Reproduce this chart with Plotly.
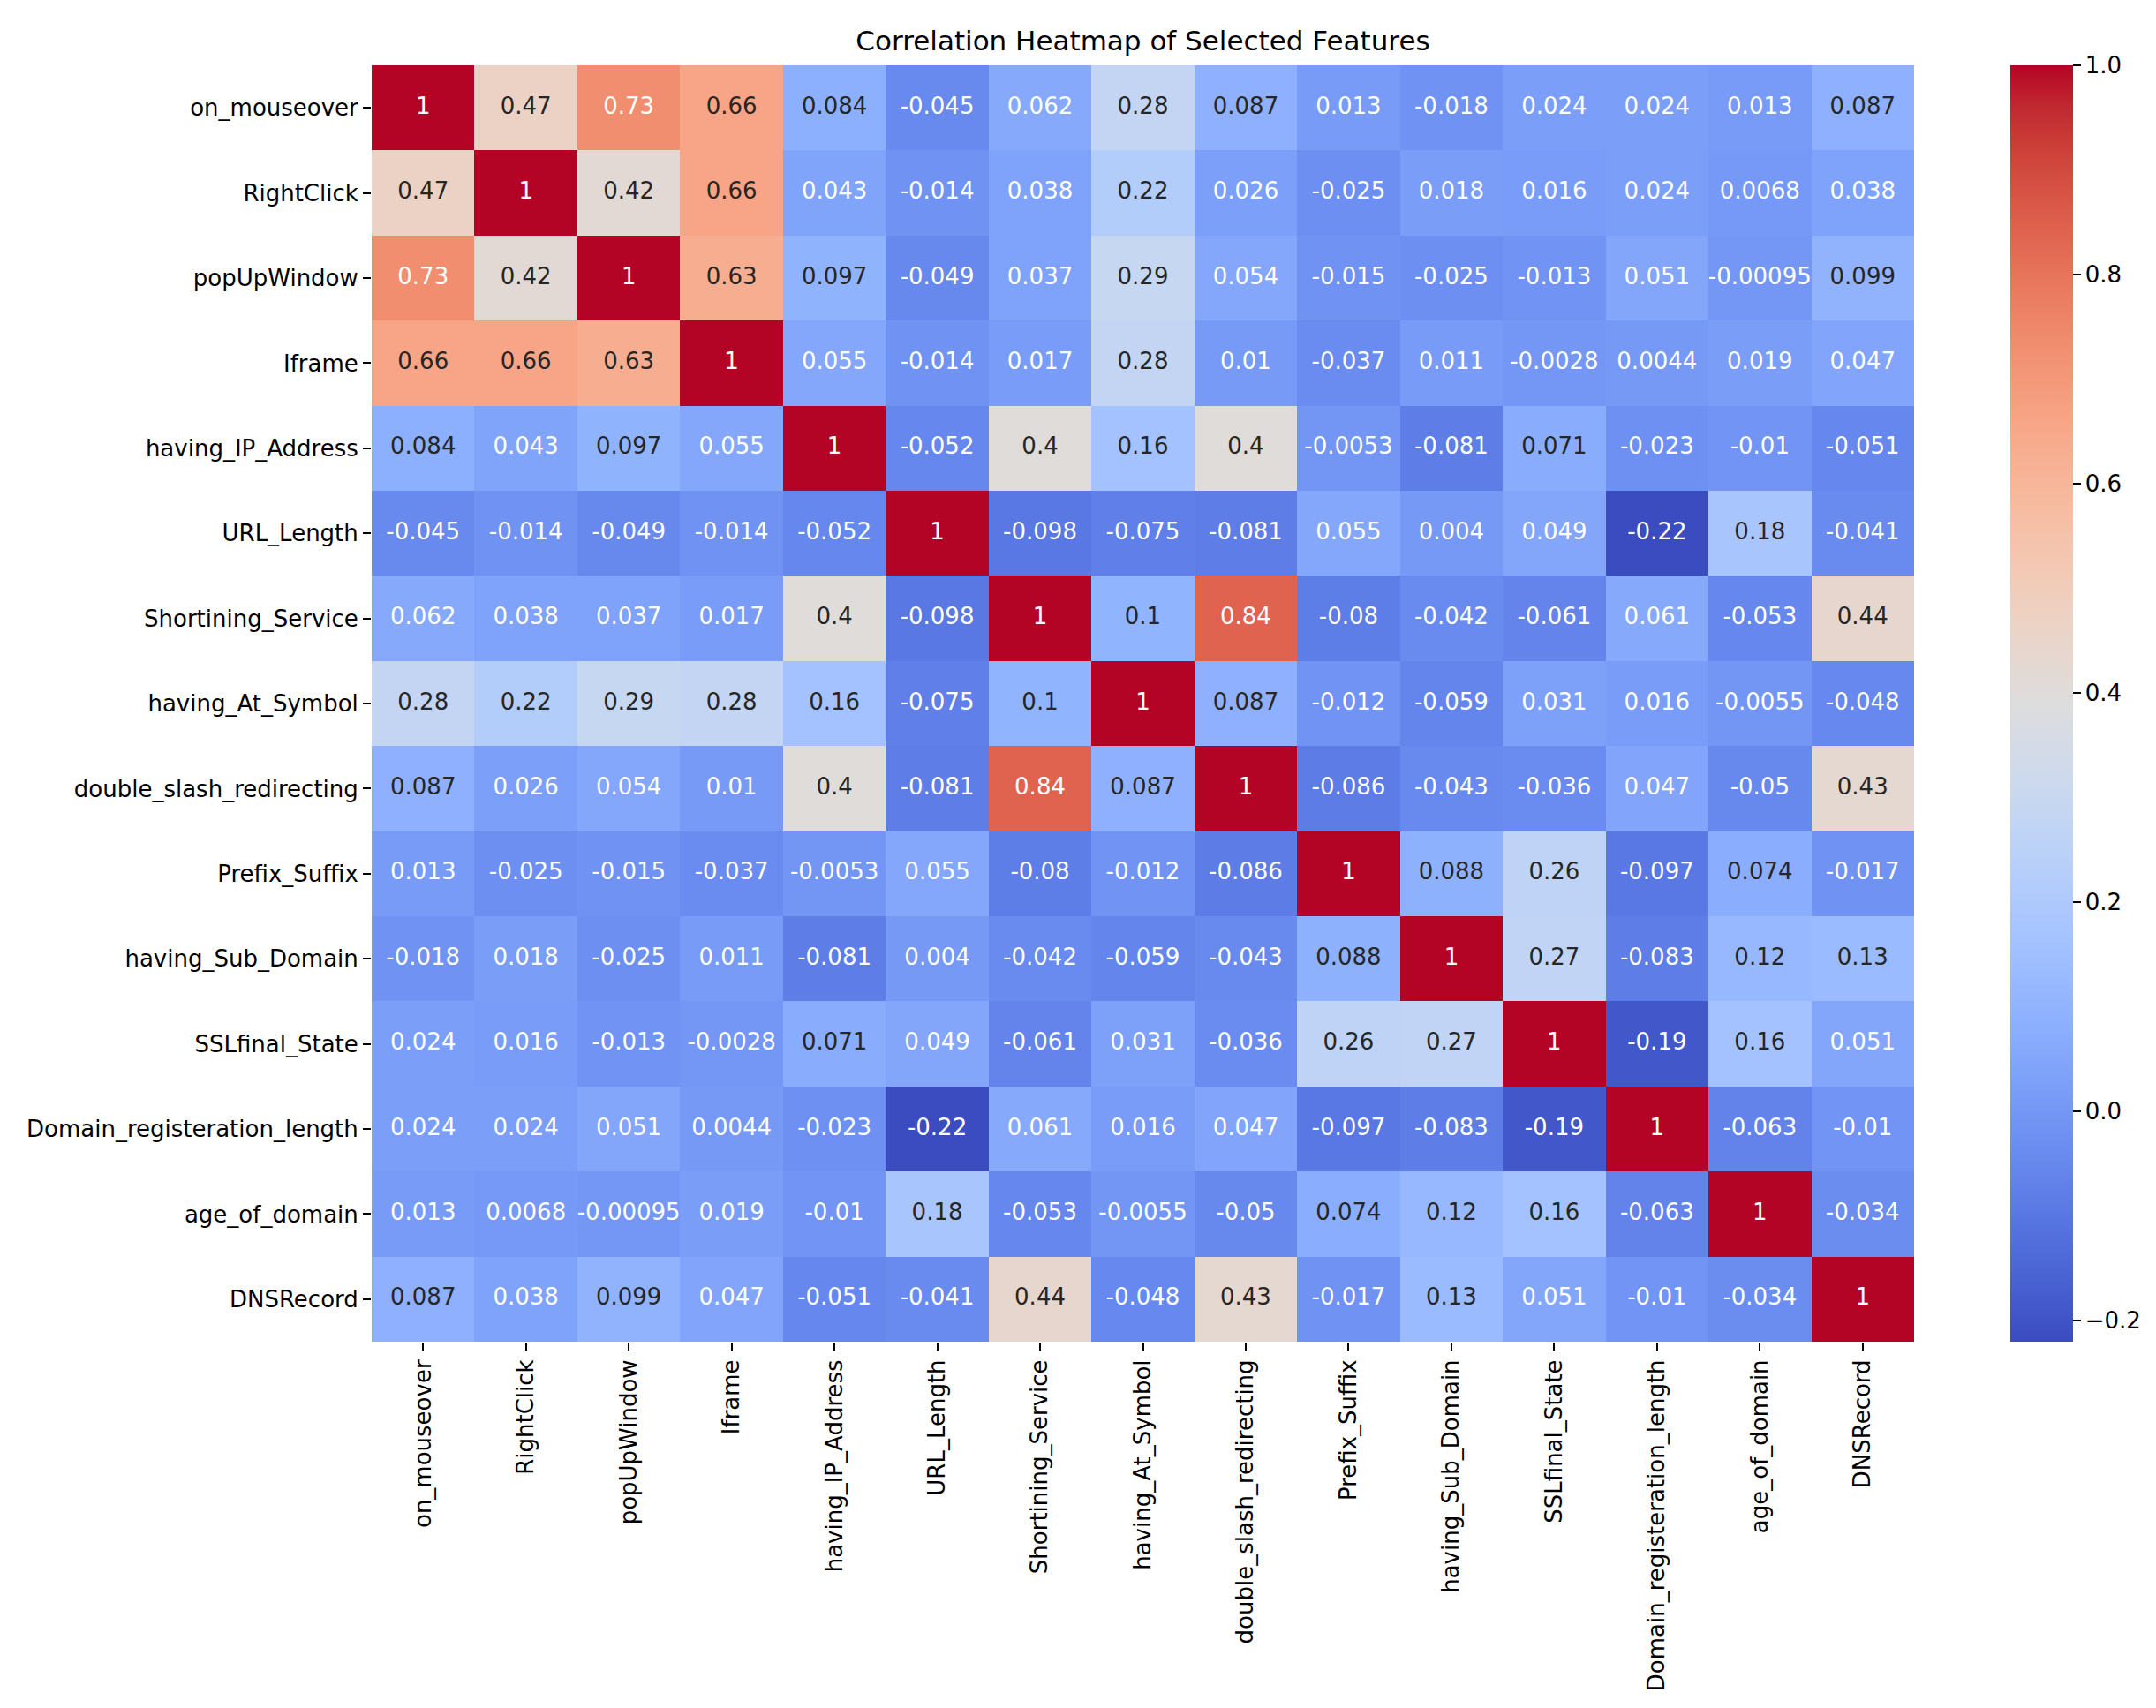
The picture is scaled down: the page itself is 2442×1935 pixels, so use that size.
import numpy as np
import plotly.graph_objects as go

features = [
    "on_mouseover", "RightClick", "popUpWindow", "Iframe", "having_IP_Address",
    "URL_Length", "Shortining_Service", "having_At_Symbol", "double_slash_redirecting",
    "Prefix_Suffix", "having_Sub_Domain", "SSLfinal_State",
    "Domain_registeration_length", "age_of_domain", "DNSRecord",
]

corr = [
    [1, 0.47, 0.73, 0.66, 0.084, -0.045, 0.062, 0.28, 0.087, 0.013, -0.018, 0.024, 0.024, 0.013, 0.087],
    [0.47, 1, 0.42, 0.66, 0.043, -0.014, 0.038, 0.22, 0.026, -0.025, 0.018, 0.016, 0.024, 0.0068, 0.038],
    [0.73, 0.42, 1, 0.63, 0.097, -0.049, 0.037, 0.29, 0.054, -0.015, -0.025, -0.013, 0.051, -0.00095, 0.099],
    [0.66, 0.66, 0.63, 1, 0.055, -0.014, 0.017, 0.28, 0.01, -0.037, 0.011, -0.0028, 0.0044, 0.019, 0.047],
    [0.084, 0.043, 0.097, 0.055, 1, -0.052, 0.4, 0.16, 0.4, -0.0053, -0.081, 0.071, -0.023, -0.01, -0.051],
    [-0.045, -0.014, -0.049, -0.014, -0.052, 1, -0.098, -0.075, -0.081, 0.055, 0.004, 0.049, -0.22, 0.18, -0.041],
    [0.062, 0.038, 0.037, 0.017, 0.4, -0.098, 1, 0.1, 0.84, -0.08, -0.042, -0.061, 0.061, -0.053, 0.44],
    [0.28, 0.22, 0.29, 0.28, 0.16, -0.075, 0.1, 1, 0.087, -0.012, -0.059, 0.031, 0.016, -0.0055, -0.048],
    [0.087, 0.026, 0.054, 0.01, 0.4, -0.081, 0.84, 0.087, 1, -0.086, -0.043, -0.036, 0.047, -0.05, 0.43],
    [0.013, -0.025, -0.015, -0.037, -0.0053, 0.055, -0.08, -0.012, -0.086, 1, 0.088, 0.26, -0.097, 0.074, -0.017],
    [-0.018, 0.018, -0.025, 0.011, -0.081, 0.004, -0.042, -0.059, -0.043, 0.088, 1, 0.27, -0.083, 0.12, 0.13],
    [0.024, 0.016, -0.013, -0.0028, 0.071, 0.049, -0.061, 0.031, -0.036, 0.26, 0.27, 1, -0.19, 0.16, 0.051],
    [0.024, 0.024, 0.051, 0.0044, -0.023, -0.22, 0.061, 0.016, 0.047, -0.097, -0.083, -0.19, 1, -0.063, -0.01],
    [0.013, 0.0068, -0.00095, 0.019, -0.01, 0.18, -0.053, -0.0055, -0.05, 0.074, 0.12, 0.16, -0.063, 1, -0.034],
    [0.087, 0.038, 0.099, 0.047, -0.051, -0.041, 0.44, -0.048, 0.43, -0.017, 0.13, 0.051, -0.01, -0.034, 1],
]

cbar_ticks = [-0.2, 0.0, 0.2, 0.4, 0.6, 0.8, 1.0]

# matplotlib "coolwarm" (Moreland cool-to-warm), 33 samples
coolwarm = [
    (0.2298057, 0.298717966, 0.753683153), (0.26623388, 0.353094838, 0.801466763),
    (0.30386891, 0.406535296, 0.84495867), (0.342804478, 0.458757618, 0.883725899),
    (0.38301334, 0.50941904, 0.917387822), (0.424369608, 0.558148092, 0.945619588),
    (0.46666708, 0.604562568, 0.968154911), (0.509635204, 0.648280772, 0.98478814),
    (0.552953156, 0.688929332, 0.995375608), (0.596262162, 0.726149107, 0.999836203),
    (0.639176211, 0.759599947, 0.998151185), (0.681291281, 0.788964712, 0.990363227),
    (0.722193294, 0.813952739, 0.976574709), (0.761464949, 0.834302879, 0.956945269),
    (0.798691636, 0.849786142, 0.931688648), (0.833466556, 0.860207984, 0.901068838),
    (0.865395197, 0.86541021, 0.865395561), (0.897787179, 0.848937047, 0.820880546),
    (0.924127593, 0.827384882, 0.774508472), (0.944468518, 0.800927443, 0.726736146),
    (0.958852946, 0.769767752, 0.678007945), (0.96732803, 0.734132809, 0.628751763),
    (0.969954137, 0.694266682, 0.579375448), (0.966811177, 0.650421156, 0.530263762),
    (0.958003065, 0.602842431, 0.481775914), (0.943660866, 0.551750968, 0.434243684),
    (0.923944917, 0.49730856, 0.387970225), (0.89904617, 0.439559467, 0.343229596),
    (0.869186849, 0.378313092, 0.300267182), (0.834620542, 0.312874446, 0.259301199),
    (0.795631745, 0.24128379, 0.220525627), (0.752534934, 0.157246067, 0.184115123),
    (0.705673158, 0.01555616, 0.150232812),
]
stops = np.linspace(0, 1, len(coolwarm))
colorscale = [[float(s), "rgb(%d,%d,%d)" % tuple(round(c * 255) for c in rgb)]
              for s, rgb in zip(stops, coolwarm)]

z = np.array(corr, dtype=float)
zmin, zmax = z.min(), z.max()
cw = np.array(coolwarm)


def luminance(v):
    t = (v - zmin) / (zmax - zmin)
    rgb = np.array([np.interp(t, stops, cw[:, k]) for k in range(3)])
    lin = np.where(rgb <= 0.03928, rgb / 12.92, ((rgb + 0.055) / 1.055) ** 2.4)
    return 0.2126 * lin[0] + 0.7152 * lin[1] + 0.0722 * lin[2]


xs, ys, labels, colors = [], [], [], []
for i, row in enumerate(features):
    for j, col in enumerate(features):
        v = corr[i][j]
        xs.append(col)
        ys.append(row)
        labels.append(format(v, ".2g"))
        colors.append("rgb(38,38,38)" if luminance(v) > 0.408 else "white")

FONT = "DejaVu Sans"
W, H = 2442, 1935
L, R, T, B = 413, 282, 66, 423
n = len(features)

fig = go.Figure()
fig.add_trace(go.Heatmap(
    z=z, x=features, y=features,
    colorscale=colorscale, zmin=zmin, zmax=zmax,
    colorbar=dict(
        x=(2269 - L) / (W - L - R), xanchor="left", xref="paper", xpad=0,
        y=0.5, yanchor="middle", len=1, lenmode="fraction", ypad=0,
        thickness=71, outlinewidth=0,
        tickvals=cbar_ticks, tickformat=".1f",
        ticks="outside", ticklen=9, tickwidth=2, tickcolor="black",
        tickfont=dict(family=FONT, size=26, color="black"),
    ),
    hoverongaps=False,
))
fig.add_trace(go.Scatter(
    x=xs, y=ys, mode="text", text=labels,
    textfont=dict(family=FONT, size=26, color=colors),
    hoverinfo="skip", showlegend=False, cliponaxis=False,
))

axis_style = dict(
    showgrid=False, zeroline=False, showline=False,
    ticks="outside", ticklen=9, tickwidth=2, tickcolor="black",
    tickfont=dict(family=FONT, size=26, color="black"),
    automargin=False, type="category",
)

fig.update_layout(
    width=W, height=H,
    margin=dict(l=L, r=R, t=T, b=B),
    paper_bgcolor="white", plot_bgcolor="white",
    title=dict(
        text="Correlation Heatmap of Selected Features",
        x=(L + (W - L - R) / 2) / W, xanchor="center",
        y=1 - 38.5 / H, yanchor="middle",
        font=dict(family=FONT, size=31, color="black"),
    ),
    xaxis=dict(axis_style, tickangle=-90, range=[-0.5, n - 0.5]),
    yaxis=dict(axis_style, range=[n - 0.5, -0.5]),
)

fig.write_html("out.html")
